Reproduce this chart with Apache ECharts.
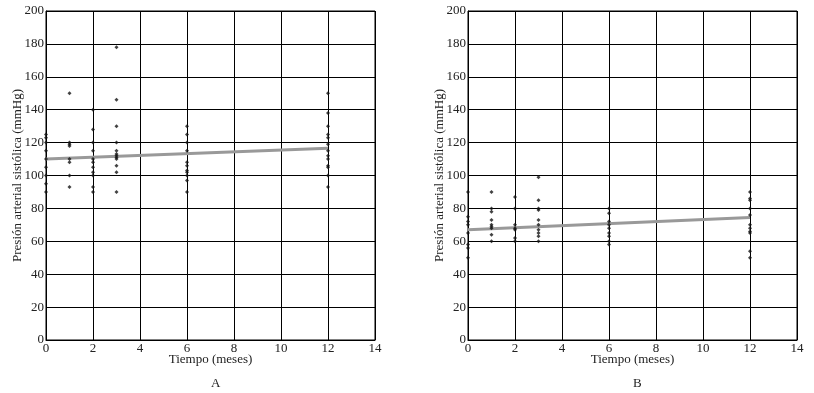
<!DOCTYPE html>
<html>
<head>
<meta charset="utf-8">
<script src="https://cdn.jsdelivr.net/npm/echarts@6/dist/echarts.min.js"></script>
<style>
  html, body { margin: 0; padding: 0; background: #fff; }
  #chart { width: 814px; height: 393px; }
</style>
</head>
<body>
<div id="chart"></div>
<script>
// grupo A
let timeA = [0, 1, 2, 3, 6, 12];
let valuesA = [
  [125, 123, 120, 115, 110, 105, 100, 95, 90],
  [150, 120, 119, 118, 110, 108, 100, 93],
  [140, 128, 120, 115, 110, 108, 105, 102, 100, 93, 90],
  [178, 146, 130, 120, 115, 113, 112, 111, 110, 106, 102, 90],
  [130, 125, 120, 115, 108, 106, 103, 102, 100, 97, 90],
  [150, 138, 130, 125, 123, 119, 115, 112, 110, 106, 105, 100, 93]
];
let fitA = [[0, 110], [12, 116.5]];

// grupo B
let timeB = [0, 1, 2, 3, 6, 12];
let valuesB = [
  [90, 75, 72, 70, 65, 58, 56, 50],
  [90, 80, 78, 73, 70, 69, 68, 64, 60],
  [87, 80, 70, 68, 67, 62, 60],
  [99, 85, 80, 79, 73, 70, 67, 65, 63, 60],
  [80, 77, 72, 70, 68, 65, 63, 60, 58],
  [90, 86, 85, 80, 76, 70, 68, 66, 65, 54, 50]
];
let fitB = [[0, 67], [12, 74.5]];

let panelNames = ['A', 'B'];
let xName = 'Tiempo (meses)';
let yName = 'Presión arterial sistólica (mmHg)';

function toPoints(times, values) {
  let pts = [];
  times.forEach(function (t, i) {
    values[i].forEach(function (v) { pts.push([t, v]); });
  });
  return pts;
}

let font = 'Liberation Serif';
let lblStyle = { color: '#222', fontFamily: font, fontSize: 13 };

function xAxisFor(idx) {
  return {
    gridIndex: idx, type: 'value', min: 0, max: 14, interval: 2,
    name: xName, nameLocation: 'middle', nameGap: 13, nameMoveOverlap: false,
    nameTextStyle: { color: '#222', fontFamily: font, fontSize: 13 },
    axisLine: { lineStyle: { color: '#000', width: 1 } },
    axisTick: { show: false },
    axisLabel: Object.assign({ margin: 2 }, lblStyle),
    splitLine: { show: true, lineStyle: { color: '#000', width: 1 } }
  };
}
function yAxisFor(idx) {
  return {
    gridIndex: idx, type: 'value', min: 0, max: 200, interval: 20,
    name: yName, nameLocation: 'middle', nameGap: 22, nameMoveOverlap: false,
    nameTextStyle: { color: '#222', fontFamily: font, fontSize: 13 },
    axisLine: { lineStyle: { color: '#000', width: 1 } },
    axisTick: { show: false },
    axisLabel: Object.assign({ margin: 2 }, lblStyle),
    splitLine: { show: true, lineStyle: { color: '#000', width: 1 } }
  };
}

let myChart = echarts.init(document.getElementById('chart'));

option = {
  animation: false,
  backgroundColor: '#fff',
  title: [
    { text: panelNames[0], left: 206, top: 372, textStyle: { fontFamily: font, fontSize: 13, fontWeight: 'normal', color: '#222' } },
    { text: panelNames[1], left: 628, top: 372, textStyle: { fontFamily: font, fontSize: 13, fontWeight: 'normal', color: '#222' } }
  ],
  grid: [
    { left: 46, top: 11, width: 329, height: 329, show: true, borderColor: '#000', borderWidth: 1 },
    { left: 468, top: 11, width: 329, height: 329, show: true, borderColor: '#000', borderWidth: 1 }
  ],
  xAxis: [xAxisFor(0), xAxisFor(1)],
  yAxis: [yAxisFor(0), yAxisFor(1)],
  series: [
    {
      type: 'line', xAxisIndex: 0, yAxisIndex: 0, data: fitA,
      symbol: 'none', lineStyle: { color: '#999', width: 3 }, z: 3
    },
    {
      type: 'scatter', xAxisIndex: 0, yAxisIndex: 0, data: toPoints(timeA, valuesA),
      symbol: 'diamond', symbolSize: 4, itemStyle: { color: '#111' }, z: 4
    },
    {
      type: 'line', xAxisIndex: 1, yAxisIndex: 1, data: fitB,
      symbol: 'none', lineStyle: { color: '#999', width: 3 }, z: 3
    },
    {
      type: 'scatter', xAxisIndex: 1, yAxisIndex: 1, data: toPoints(timeB, valuesB),
      symbol: 'diamond', symbolSize: 4, itemStyle: { color: '#111' }, z: 4
    }
  ]
};

myChart.setOption(option);
</script>
</body>
</html>
